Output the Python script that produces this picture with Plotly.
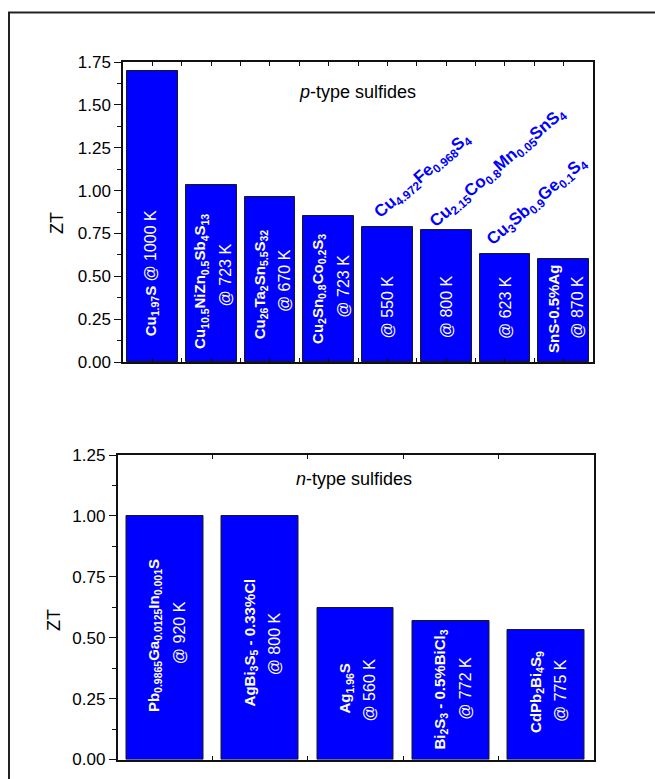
import numpy as np
import plotly.graph_objects as go

W, H = 655, 779

# ---------------- data ----------------
p_formulas = [
    "Cu<sub>1.97</sub>S",
    "Cu<sub>10.5</sub>NiZn<sub>0.5</sub>Sb<sub>4</sub>S<sub>13</sub>",
    "Cu<sub>26</sub>Ta<sub>2</sub>Sn<sub>5.5</sub>S<sub>32</sub>",
    "Cu<sub>2</sub>Sn<sub>0.8</sub>Co<sub>0.2</sub>S<sub>3</sub>",
    "Cu<sub>4.972</sub>Fe<sub>0.968</sub>S<sub>4</sub>",
    "Cu<sub>2.15</sub>Co<sub>0.8</sub>Mn<sub>0.05</sub>SnS<sub>4</sub>",
    "Cu<sub>3</sub>Sb<sub>0.9</sub>Ge<sub>0.1</sub>S<sub>4</sub>",
    "SnS-0.5%Ag",
]
p_temps = [1000, 723, 670, 723, 550, 800, 623, 870]
p_zt = [1.70, 1.03, 0.96, 0.85, 0.79, 0.77, 0.63, 0.60]

n_formulas = [
    "Pb<sub>0.9865</sub>Ga<sub>0.0125</sub>In<sub>0.001</sub>S",
    "AgBi<sub>3</sub>S<sub>5</sub> - 0.33%Cl",
    "Ag<sub>1.96</sub>S",
    "Bi<sub>2</sub>S<sub>3</sub> - 0.5%BiCl<sub>3</sub>",
    "CdPb<sub>2</sub>Bi<sub>4</sub>S<sub>9</sub>",
]
n_temps = [920, 800, 560, 772, 775]
n_zt = [1.00, 1.00, 0.62, 0.57, 0.53]

y_ticks_p = [0.00, 0.25, 0.50, 0.75, 1.00, 1.25, 1.50, 1.75]
y_ticks_n = [0.00, 0.25, 0.50, 0.75, 1.00, 1.25]

# ---------------- layout / style ----------------
FONT = "Liberation Sans, Arial, sans-serif"
BLUE = "#0000FF"

def px_x(p):
    return p / W

def px_y(p):
    return 1 - p / H

# label layout: mode, formula y-centre, temp y-centre (data units)
p_label_mode = ["one", "two", "two", "two", "out", "out", "out", "two"]
p_formula_yc = [0.52, 0.468, 0.453, 0.424, None, None, None, 0.307]
p_temp_yc = [None, 0.506, 0.477, 0.443, 0.32, 0.32, 0.32, 0.32]
p_out_pos = {4: (4.61, 1.083), 5: (5.89, 1.13), 6: (6.55, 0.933)}

n_formula_yc = [0.507, 0.482, 0.289, 0.286, 0.277]
n_temp_yc = [0.519, 0.474, 0.285, 0.293, 0.285]

F_SHIFT, T_SHIFT = -10, 14

xp = np.arange(len(p_zt))
xn = np.arange(len(n_zt))

fig = go.Figure()
fig.add_trace(go.Bar(x=xp, y=p_zt, width=0.864, xaxis="x", yaxis="y",
                     marker=dict(color=BLUE, line=dict(color="#1a1a1a", width=1)),
                     showlegend=False, hoverinfo="y"))
fig.add_trace(go.Bar(x=xn, y=n_zt, width=0.805, xaxis="x2", yaxis="y2",
                     marker=dict(color=BLUE, line=dict(color="#1a1a1a", width=1)),
                     showlegend=False, hoverinfo="y"))

ann = []
wfont_b = dict(family=FONT, size=15, color="white")
wfont_t = dict(family=FONT, size=16, color="white")

for i, (f, t, mode) in enumerate(zip(p_formulas, p_temps, p_label_mode)):
    if mode == "one":
        ann.append(dict(x=i, y=p_formula_yc[i], xref="x", yref="y",
                        text=f"<b>{f}</b> <span style='font-size:16px'>@ {t} K</span>",
                        textangle=-90, showarrow=False, font=wfont_b,
                        xanchor="center", yanchor="middle", xshift=-1))
    elif mode == "two":
        ann.append(dict(x=i, y=p_formula_yc[i], xref="x", yref="y",
                        text=f"<b>{f}</b>", textangle=-90, showarrow=False,
                        font=wfont_b, xanchor="center", yanchor="middle", xshift=F_SHIFT))
        ann.append(dict(x=i, y=p_temp_yc[i], xref="x", yref="y",
                        text=f"@ {t} K", textangle=-90, showarrow=False,
                        font=wfont_t, xanchor="center", yanchor="middle", xshift=T_SHIFT))
    else:
        ann.append(dict(x=i, y=p_temp_yc[i], xref="x", yref="y",
                        text=f"@ {t} K", textangle=-90, showarrow=False,
                        font=wfont_t, xanchor="center", yanchor="middle"))
        ox, oy = p_out_pos[i]
        ann.append(dict(x=ox, y=oy, xref="x", yref="y",
                        text=f"<b>{f}</b>", textangle=-41, showarrow=False,
                        font=dict(family=FONT, size=17, color=BLUE),
                        xanchor="center", yanchor="middle"))

for i, (f, t) in enumerate(zip(n_formulas, n_temps)):
    ann.append(dict(x=i, y=n_formula_yc[i], xref="x2", yref="y2",
                    text=f"<b>{f}</b>", textangle=-90, showarrow=False,
                    font=wfont_b, xanchor="center", yanchor="middle", xshift=F_SHIFT))
    ann.append(dict(x=i, y=n_temp_yc[i], xref="x2", yref="y2",
                    text=f"@ {t} K", textangle=-90, showarrow=False,
                    font=wfont_t, xanchor="center", yanchor="middle", xshift=T_SHIFT))

# panel titles and axis titles
big = dict(family=FONT, size=18, color="black")
ann.append(dict(x=px_x(357), y=px_y(92), xref="paper", yref="paper",
                text="<i>p</i>-type sulfides", showarrow=False, font=big,
                xanchor="center", yanchor="middle"))
ann.append(dict(x=px_x(354), y=px_y(479), xref="paper", yref="paper",
                text="<i>n</i>-type sulfides", showarrow=False, font=big,
                xanchor="center", yanchor="middle"))
ann.append(dict(x=px_x(57), y=px_y(223), xref="paper", yref="paper",
                text="ZT", textangle=-90, showarrow=False, font=big,
                xanchor="center", yanchor="middle"))
ann.append(dict(x=px_x(54), y=px_y(620), xref="paper", yref="paper",
                text="ZT", textangle=-90, showarrow=False, font=big,
                xanchor="center", yanchor="middle"))

tickfont = dict(family=FONT, size=17, color="black")
LINE = "#111111"

def xaxis_cfg(dom, anchor, n, step):
    return dict(domain=dom, anchor=anchor, range=[-0.5, n - 0.5], automargin=False,
                showline=True, linecolor=LINE, linewidth=1.8, mirror="ticks",
                ticks="inside", ticklen=4, tickwidth=1, tickcolor=LINE,
                tickvals=list(np.arange(-0.5 + step, n - 0.5, step)),
                showticklabels=False, showgrid=False, zeroline=False, fixedrange=True)

def yaxis_cfg(dom, anchor, top, ticks):
    return dict(domain=dom, anchor=anchor, range=[0, top], automargin=False,
                showline=True, linecolor=LINE, linewidth=1.5, mirror=True,
                ticks="outside", ticklen=7, tickwidth=1, tickcolor=LINE,
                tickvals=ticks, ticktext=[f"{v:.2f}" for v in ticks],
                tickfont=tickfont,
                minor=dict(ticks="outside", ticklen=4, dtick=0.125, tickcolor=LINE, tickwidth=1),
                showgrid=False, zeroline=False, fixedrange=True)

def yright_cfg(over, anchor, top, ticks):
    return dict(overlaying=over, anchor=anchor, side="right", range=[0, top], automargin=False,
                showline=False, ticks="inside", ticklen=5, tickwidth=1, tickcolor=LINE,
                tickvals=ticks, showticklabels=False,
                minor=dict(ticks="inside", ticklen=3, dtick=0.125, tickcolor=LINE, tickwidth=1),
                showgrid=False, zeroline=False, fixedrange=True)

top_x = [px_x(123), px_x(593)]
top_y = [px_y(362), px_y(62)]
bot_x = [px_x(117.5), px_x(593.5)]
bot_y = [px_y(759.5), px_y(455)]

fig.update_layout(
    template="none",
    width=W, height=H,
    margin=dict(l=0, r=0, t=0, b=0, pad=0, autoexpand=False),
    paper_bgcolor="white", plot_bgcolor="white",
    font=dict(family=FONT, color="black"),
    bargap=0,
    xaxis=xaxis_cfg(top_x, "y", len(p_zt), 0.5),
    yaxis=yaxis_cfg(top_y, "x", 1.75, y_ticks_p),
    xaxis2=xaxis_cfg(bot_x, "y2", len(n_zt), 1.0),
    yaxis2=yaxis_cfg(bot_y, "x2", 1.25, y_ticks_n),
    yaxis3=yright_cfg("y", "x", 1.75, y_ticks_p),
    yaxis4=yright_cfg("y2", "x2", 1.25, y_ticks_n),
    annotations=ann,
    shapes=[dict(type="rect", xref="paper", yref="paper",
                 x0=px_x(9), x1=1.05, y0=-0.05, y1=px_y(12.5),
                 line=dict(color="#222222", width=2), fillcolor="rgba(0,0,0,0)")],
)

fig.write_html("out.html",
               config={"displayModeBar": False},
               post_script="document.body.style.margin='0';document.body.style.padding='0';")
